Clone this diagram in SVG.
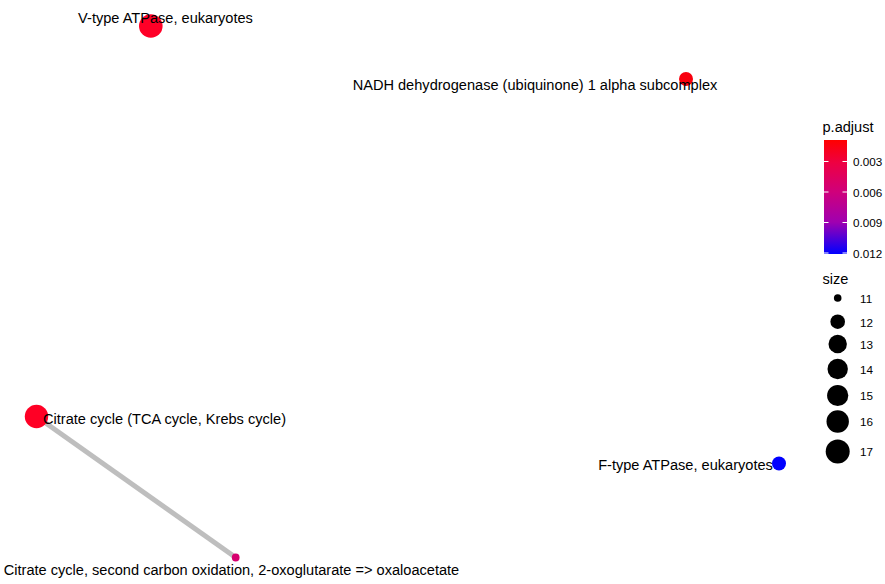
<svg xmlns="http://www.w3.org/2000/svg" width="885" height="584" viewBox="0 0 885 584">
<defs>
<linearGradient id="pgrad" x1="0" y1="0" x2="0" y2="1">
<stop offset="0" stop-color="#FF0000"/>
<stop offset="0.2" stop-color="#EE0042"/>
<stop offset="0.45" stop-color="#D0007A"/>
<stop offset="0.72" stop-color="#A000B0"/>
<stop offset="1" stop-color="#0000FF"/>
</linearGradient>
<style>
text{font-family:"Liberation Sans",Arial,sans-serif;fill:#000}
.lbl{font-size:14.58px;text-anchor:middle}
.leg{font-size:11.7px}
.ttl{font-size:14.58px}
.edge{stroke:#BEBEBE;stroke-width:5;stroke-linecap:butt}
.tick{stroke:#FFFFFF;stroke-width:1}
</style>
</defs>
<rect width="885" height="584" fill="#FFFFFF"/>
<g id="edges">
<line class="edge" x1="36.5" y1="416.5" x2="235.7" y2="557.5"/>
</g>
<g id="node-vtype">
<circle cx="150.8" cy="26" r="11.8" fill="#FF0027"/>
<text class="lbl" x="165.5" y="22.5">V-type ATPase, eukaryotes</text>
</g>
<g id="node-nadh">
<circle cx="686" cy="79" r="7" fill="#F8000E"/>
<text class="lbl" x="535" y="89.5">NADH dehydrogenase (ubiquinone) 1 alpha subcomplex</text>
</g>
<g id="node-tca">
<circle cx="36.5" cy="416.5" r="11.7" fill="#FF0025"/>
<text class="lbl" x="164.5" y="423.5">Citrate cycle (TCA cycle, Krebs cycle)</text>
</g>
<g id="node-second">
<circle cx="235.7" cy="557.5" r="3.9" fill="#D6006E"/>
<text class="lbl" x="231.5" y="575">Citrate cycle, second carbon oxidation, 2-oxoglutarate =&gt; oxaloacetate</text>
</g>
<g id="node-ftype">
<circle cx="779" cy="463.5" r="7" fill="#0000FF"/>
<text class="lbl" x="685.5" y="470">F-type ATPase, eukaryotes</text>
</g>
<g id="legend-padjust">
<text class="ttl" x="822.5" y="132">p.adjust</text>
<rect x="824" y="140" width="23" height="114" fill="url(#pgrad)"/>
<line class="tick" x1="824" y1="161.5" x2="828.5" y2="161.5"/>
<line class="tick" x1="842.5" y1="161.5" x2="847" y2="161.5"/>
<line class="tick" x1="824" y1="192" x2="828.5" y2="192"/>
<line class="tick" x1="842.5" y1="192" x2="847" y2="192"/>
<line class="tick" x1="824" y1="222.5" x2="828.5" y2="222.5"/>
<line class="tick" x1="842.5" y1="222.5" x2="847" y2="222.5"/>
<line class="tick" x1="824" y1="253" x2="828.5" y2="253"/>
<line class="tick" x1="842.5" y1="253" x2="847" y2="253"/>
<text class="leg" x="853" y="166">0.003</text>
<text class="leg" x="853" y="196.5">0.006</text>
<text class="leg" x="853" y="227">0.009</text>
<text class="leg" x="853" y="257.5">0.012</text>
</g>
<g id="legend-size">
<text class="ttl" x="822.5" y="284">size</text>
<circle cx="837.7" cy="298" r="3.8" fill="#000"/>
<circle cx="837.7" cy="321.7" r="7.3" fill="#000"/>
<circle cx="837.7" cy="344" r="9.2" fill="#000"/>
<circle cx="837.7" cy="369" r="10.2" fill="#000"/>
<circle cx="837.7" cy="395.5" r="10.6" fill="#000"/>
<circle cx="837.7" cy="421.5" r="11.2" fill="#000"/>
<circle cx="837.7" cy="451.5" r="12" fill="#000"/>
<text class="leg" x="860" y="302.5">11</text>
<text class="leg" x="860" y="326.5">12</text>
<text class="leg" x="860" y="348.5">13</text>
<text class="leg" x="860" y="373.5">14</text>
<text class="leg" x="860" y="400">15</text>
<text class="leg" x="860" y="426">16</text>
<text class="leg" x="860" y="456">17</text>
</g>
</svg>
